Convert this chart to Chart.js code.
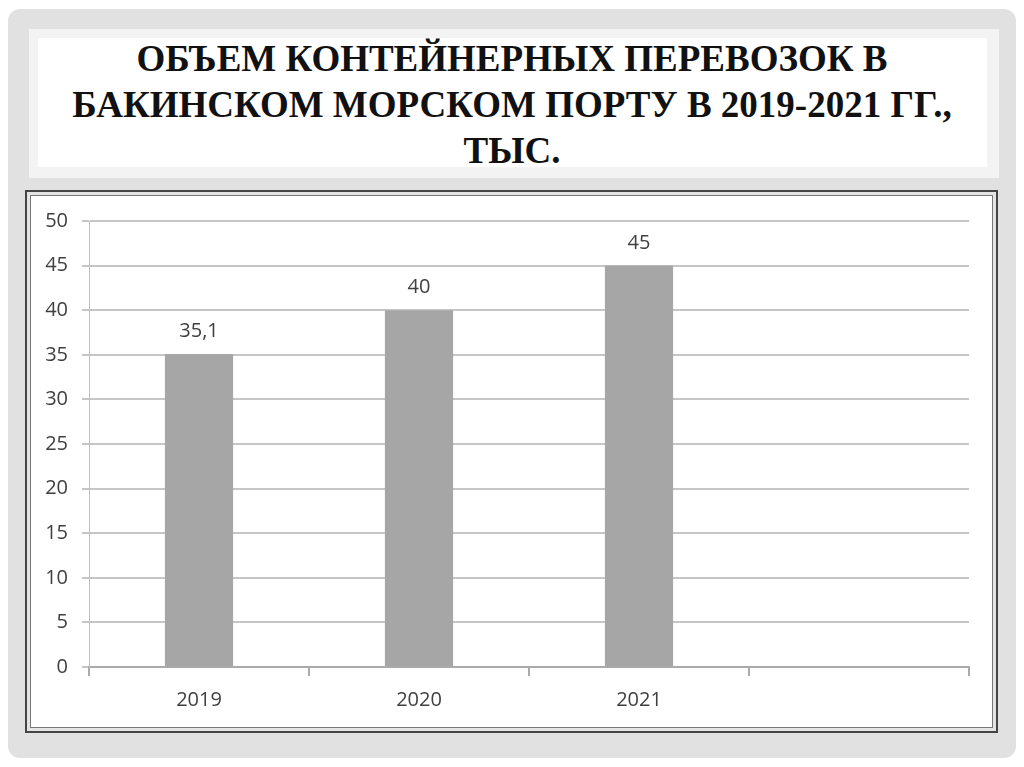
<!DOCTYPE html>
<html>
<head>
<meta charset="utf-8">
<script src="https://cdn.jsdelivr.net/npm/chart.js@4"></script>
<style>
  html, body { margin: 0; padding: 0; background: #fff; }
  body { width: 1024px; height: 767px; position: relative; overflow: hidden; }
  .slide { position: absolute; left: 8px; top: 9px; width: 1008px; height: 749px;
           background: #e1e1e1; border-radius: 12px; }
  .title-box { position: absolute; left: 29px; top: 29px; width: 970px; height: 149px;
               background: #f3f3f3; }
  .title-inner { position: absolute; left: 9px; top: 9px; right: 12px; bottom: 11px;
                 background: #fff; }
  .title { position: absolute; left: 0; top: 36px; width: 1024px; text-align: center;
           font-family: "Liberation Serif", "DejaVu Serif", serif; font-weight: bold;
           font-size: 37px; line-height: 46px; color: #111; }
  .frame { position: absolute; left: 25px; top: 190px; width: 973px; height: 543px;
           box-sizing: border-box; background: #fff; border: 2px solid #444;
           box-shadow: inset 0 0 0 3px #e4e4e4, inset 0 0 0 4px #777; }
  canvas { position: absolute; left: 0; top: 0; }
</style>
</head>
<body>
<div class="slide"></div>
<div class="title-box"><div class="title-inner"></div></div>
<div class="title">ОБЪЕМ КОНТЕЙНЕРНЫХ ПЕРЕВОЗОК В<br>БАКИНСКОМ МОРСКОМ ПОРТУ В 2019-2021 ГГ.,<br>ТЫС.</div>
<div class="frame"></div>
<canvas id="myChart" width="1024" height="767"></canvas>
<script>
// data
var years = ['2019', '2020', '2021', ''];
var volumes = [35.1, 40, 45, null];
var valueLabels = ['35,1', '40', '45', ''];
var yTicks = [0, 5, 10, 15, 20, 25, 30, 35, 40, 45, 50];

// writes the value above each bar
var barLabels = {
  id: 'barLabels',
  afterDatasetsDraw: function(chart) {
    var ctx = chart.ctx;
    var meta = chart.getDatasetMeta(0);
    ctx.save();
    ctx.font = '20px "Open Sans"';
    ctx.fillStyle = '#404040';
    ctx.textAlign = 'center';
    ctx.textBaseline = 'alphabetic';
    meta.data.forEach(function(bar, i) {
      if (volumes[i] == null) return;
      ctx.fillText(valueLabels[i], bar.x, bar.y - 17);
    });
    ctx.restore();
  }
};

var ctx = document.getElementById('myChart').getContext('2d');
var myChart = new Chart(ctx, {
  type: 'bar',
  data: {
    labels: years,
    datasets: [{
      data: volumes,
      backgroundColor: '#a6a6a6',
      barPercentage: 0.31,
      categoryPercentage: 1
    }]
  },
  options: {
    responsive: false,
    animation: false,
    devicePixelRatio: 1,
    layout: { padding: { left: 40, right: 55, top: 221, bottom: 40 } },
    plugins: { legend: { display: false }, tooltip: { enabled: false } },
    scales: {
      x: {
        offset: true,
        afterFit: function(s) { s.height = 60; },
        grid: { offset: true, drawOnChartArea: false, drawTicks: true, tickLength: 9,
                color: '#aaaaaa', lineWidth: 2 },
        border: { color: '#aaaaaa', width: 2 },
        ticks: { padding: 12, color: '#404040', font: { family: 'Open Sans', size: 20 } }
      },
      y: {
        min: 0,
        max: 50,
        afterFit: function(s) { s.width = 49; },
        afterBuildTicks: function(s) { s.ticks = yTicks.map(function(v) { return { value: v }; }); },
        grid: { color: '#c6c6c6', lineWidth: 2, tickLength: 7 },
        border: { color: '#c0c0c0', width: 1 },
        ticks: { padding: 14, color: '#404040', font: { family: 'Open Sans', size: 20 } }
      }
    }
  },
  plugins: [barLabels]
});
</script>
</body>
</html>
